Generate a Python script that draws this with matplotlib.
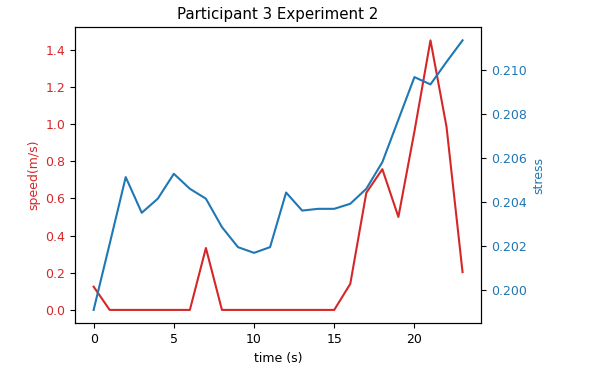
import numpy as np
import matplotlib.pyplot as plt

plt.rcParams['font.size'] = 9

time = np.arange(24)
speed = [0.125, 0.0, 0.0, 0.0, 0.0, 0.0, 0.0, 0.333, 0.0, 0.0, 0.0, 0.0,
         0.0, 0.0, 0.0, 0.0, 0.14, 0.63, 0.757, 0.50, 0.96, 1.45, 0.985, 0.203]
stress = [0.19909, 0.20209, 0.20512, 0.2035, 0.20414, 0.20527, 0.20459, 0.20414,
          0.20285, 0.20194, 0.20168, 0.20194, 0.20442, 0.2036, 0.20368, 0.20368,
          0.20391, 0.20459, 0.2058, 0.20773, 0.20966, 0.20933, 0.21035, 0.21133]

fig, ax1 = plt.subplots(figsize=(5.92, 3.73), dpi=100)
fig.subplots_adjust(left=0.127, right=0.8125, top=0.928, bottom=0.133)

color = 'tab:red'
ax1.set_xlabel('time (s)')
ax1.set_ylabel('speed(m/s)', color=color)
ax1.plot(time, speed, color=color)
ax1.tick_params(axis='y', labelcolor=color)

ax2 = ax1.twinx()
color = 'tab:blue'
ax2.set_ylabel('stress', color=color)
ax2.plot(time, stress, color=color)
ax2.tick_params(axis='y', labelcolor=color)

ax1.set_title('Participant 3 Experiment 2')
fig.savefig('out.png')
